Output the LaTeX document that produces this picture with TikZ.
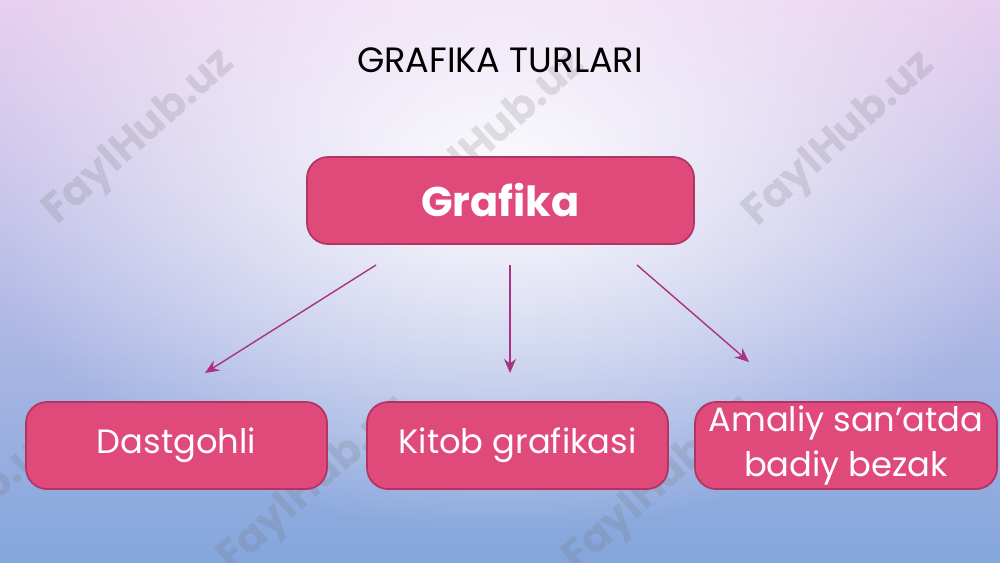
\documentclass[tikz,border=0pt]{standalone}
\usepackage{fontspec}
\setmainfont{Poppins}
\usetikzlibrary{arrows.meta}
\usetikzlibrary{fadings}

\definecolor{boxfill}{RGB}{224,74,122}
\definecolor{boxline}{RGB}{178,52,100}
\definecolor{arrowcol}{RGB}{170,50,130}
\definecolor{bgtop}{RGB}{232,208,240}
\definecolor{bgmid}{RGB}{214,208,238}
\definecolor{bgbot}{RGB}{132,166,220}

\tikzfading[name=glow, inner color=transparent!0, outer color=transparent!100]

\tikzset{
  box/.style={draw=boxline, fill=boxfill, rounded corners=6pt, line width=.5pt,
    text=white, minimum height=.87cm, inner sep=0pt, align=center},
  link/.style={draw=arrowcol, line width=.4pt, -{Stealth[length=4pt,width=3.4pt]}},
  wmark/.style={text=black!55, opacity=.2, font=\bfseries\fontsize{12}{12}\selectfont, rotate=42}
}

\begin{document}
\begin{tikzpicture}
\useasboundingbox (0,0) rectangle (10,5.62);
\clip (0,0) rectangle (10,5.62);

\shade[top color=bgtop, middle color=bgmid, bottom color=bgbot] (0,0) rectangle (10,5.62);
\fill[white, opacity=.95, path fading=glow] (5,3.9) ellipse (5.4 and 3.6);

\foreach \x/\y [count=\i] in {1.40/4.24, 4.90/4.22, 8.40/4.22, -0.35/0.45, 3.15/0.77, 6.60/0.77}
  \node[wmark] (wm\i) at (\x,\y) {FaylHub.uz};

\node (title) at (5.0,5.02) {\fontsize{10}{12}\selectfont GRAFIKA TURLARI};

\node[box, minimum width=3.87cm, font=\bfseries\fontsize{11.8}{14}\selectfont] (grafika) at (5.005,3.615) {Grafika};

\node[box, minimum width=3.01cm, font=\fontsize{9.6}{12.8}\selectfont] (dast) at (1.765,1.165) {Dastgohli};
\node[box, minimum width=3.01cm, font=\fontsize{9.6}{12.8}\selectfont] (kitob) at (5.175,1.165) {Kitob grafikasi};
\node[box, minimum width=3.02cm, font=\fontsize{9.6}{12.8}\selectfont] (amaliy) at (8.46,1.165) {Amaliy san’atda\\badiy bezak};

\coordinate (s1) at (3.76,2.97);
\coordinate (e1) at (2.05,1.89);
\coordinate (s2) at (5.10,2.97);
\coordinate (e2) at (5.10,1.89);
\coordinate (s3) at (6.37,2.97);
\coordinate (e3) at (7.49,2.00);

\draw[link] (s1) -- (e1);
\draw[link] (s2) -- (e2);
\draw[link] (s3) -- (e3);

\end{tikzpicture}
\end{document}
